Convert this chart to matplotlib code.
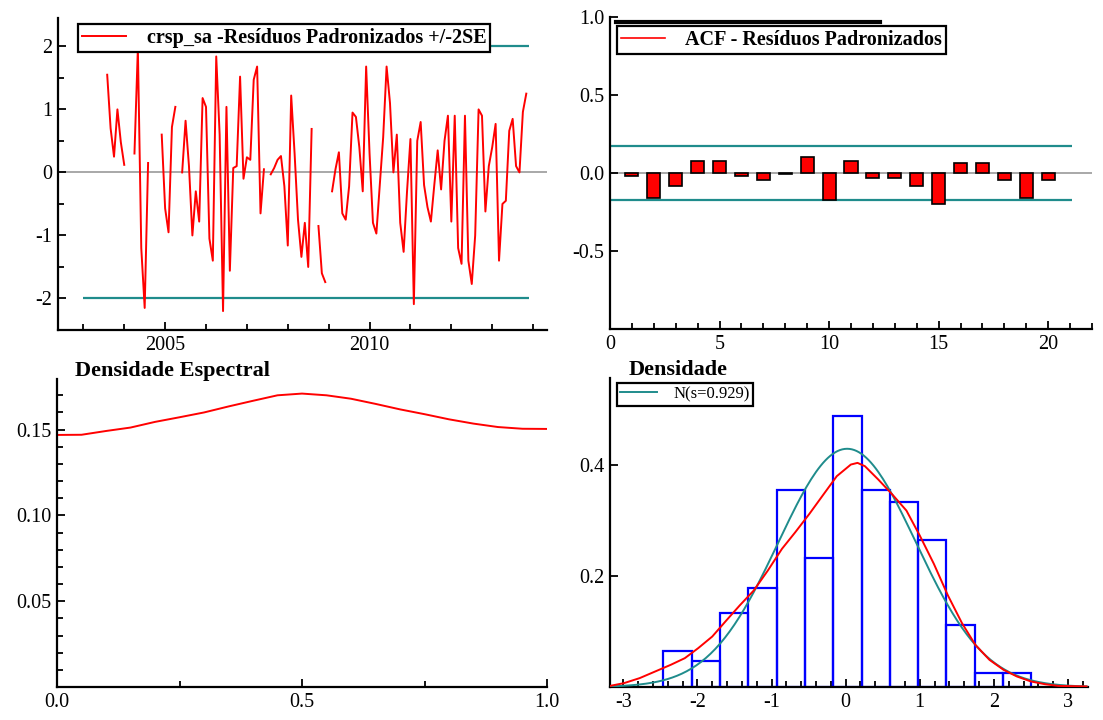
import numpy as np
import matplotlib.pyplot as plt
from matplotlib.ticker import MultipleLocator, FixedLocator

plt.rcParams['font.family'] = ['Liberation Serif', 'DejaVu Serif']
plt.rcParams['axes.unicode_minus'] = False

nan = np.nan

# standardized residuals, monthly from Aug 2003 (nan = missing)
resid = [1.55, 0.7, 0.25, 1.0, 0.48, 0.12, nan, nan, 0.3, 1.97,
         -1.2, -2.15, 0.15, nan, nan, nan, 0.6, -0.57, -0.95, 0.72,
         1.04, nan, 0.0, 0.82, 0.1, -1.0, -0.3, -0.78, 1.18, 1.04,
         -1.05, -1.4, 1.84, 0.6, -2.2, 1.04, -1.56, 0.07, 0.1, 1.52,
         -0.1, 0.24, 0.2, 1.47, 1.68, -0.65, 0.05, nan, -0.03, 0.07,
         0.2, 0.26, -0.22, -1.16, 1.22, 0.3, -0.75, -1.34, -0.8, -1.5,
         0.69, nan, -0.85, -1.6, -1.74, nan, -0.3, 0.05, 0.32, -0.65,
         -0.75, -0.22, 0.95, 0.88, 0.4, -0.3, 1.68, 0.3, -0.8, -0.97,
         -0.2, 0.56, 1.68, 1.1, 0.0, 0.6, -0.8, -1.26, -0.3, 0.53,
         -2.09, 0.5, 0.8, -0.2, -0.55, -0.78, -0.2, 0.35, -0.27, 0.5,
         0.9, -0.78, 0.9, -1.2, -1.45, 0.9, -1.4, -1.77, -1.0, 1.0,
         0.9, -0.62, 0.1, 0.4, 0.77, -1.4, -0.5, -0.45, 0.66, 0.85,
         0.1, 0.0, 0.96, 1.25]
dates = 2003 + 7 / 12 + np.arange(len(resid)) / 12

# autocorrelations, lags 1..20
lags = np.arange(1, 21)
acf = [-0.017, -0.158, -0.081, 0.077, 0.077, -0.017, -0.043, -0.004, 0.103, -0.175,
       0.077, -0.03, -0.03, -0.081, -0.197, 0.064, 0.064, -0.043, -0.158, -0.043]
acf_band = 0.175

# spectral density
freq = np.linspace(0, 1, 21)
spec = [0.1469, 0.1470, 0.1492, 0.1512, 0.1545, 0.1572, 0.1600, 0.1635, 0.1668, 0.1700,
        0.1710, 0.1700, 0.1680, 0.1650, 0.1618, 0.1590, 0.1560, 0.1535, 0.1515, 0.1505, 0.1504]

# histogram of residuals (density scale)
bin_left = -2.46
bin_w = 0.382
hist_h = [0.064, 0.046, 0.1325, 0.179, 0.355, 0.232, 0.488, 0.355, 0.333, 0.265,
          0.111, 0.025, 0.025]

# kernel density estimate
kde_x = [-3.18, -2.99, -2.78, -2.57, -2.36, -2.17, -1.99, -1.8, -1.61, -1.43,
         -1.24, -1.05, -0.86, -0.68, -0.49, -0.3, -0.12, 0.07, 0.16, 0.26,
         0.44, 0.63, 0.82, 1.0, 1.19, 1.38, 1.57, 1.75, 1.94, 2.13,
         2.31, 2.5, 2.69, 2.87, 3.25]
kde_y = [0.002, 0.007, 0.016, 0.028, 0.04, 0.052, 0.07, 0.091, 0.12, 0.147,
         0.174, 0.21, 0.249, 0.279, 0.312, 0.347, 0.38, 0.401, 0.404, 0.398,
         0.374, 0.347, 0.318, 0.273, 0.222, 0.165, 0.115, 0.076, 0.049, 0.031,
         0.019, 0.01, 0.005, 0.002, 0.001]
norm_mean = 0.02
norm_s = 0.929

RED = '#ff0000'
TEAL = '#1f8c8c'
BLUE = '#0000ff'
GREY = '#9a9a9a'

W, H = 1103, 720
fig = plt.figure(figsize=(W / 100, H / 100), dpi=100)

def box(x0, x1, ytop, ybot):
    return [x0 / W, 1 - ybot / H, (x1 - x0) / W, (ybot - ytop) / H]

ax1 = fig.add_axes(box(58, 547, 18, 330))
ax2 = fig.add_axes(box(610, 1092, 17, 329))
ax3 = fig.add_axes(box(57, 547, 379, 687))
ax4 = fig.add_axes(box(610, 1088, 378, 687))

for ax in (ax1, ax2, ax3, ax4):
    for s in ('top', 'right'):
        ax.spines[s].set_visible(False)
    for s in ('left', 'bottom'):
        ax.spines[s].set_linewidth(1.6)
    ax.tick_params(which='both', direction='in', labelsize=14.5, width=1.3, pad=4)
    ax.tick_params(which='major', length=6)
    ax.tick_params(which='minor', length=4)

def legend(ax, x, y, size=14.5, bold=True):
    lg = ax.legend(loc='upper left', bbox_to_anchor=(x, y), borderaxespad=0,
                   frameon=True, fancybox=False, handlelength=2.2, handletextpad=1.0,
                   borderpad=0.2, prop={'size': size, 'weight': 'bold' if bold else 'normal'})
    lg.get_frame().set_edgecolor('black')
    lg.get_frame().set_linewidth(1.6)
    lg.get_frame().set_alpha(1)
    return lg

# residuals
ax1.axhline(0, color=GREY, lw=1.2, zorder=1)
ax1.hlines([2, -2], 2003.0, 2013.9, color=TEAL, lw=1.6, zorder=2)
ax1.plot(dates, resid, color=RED, lw=1.4, zorder=3, label='crsp_sa -Resíduos Padronizados +/-2SE')
ax1.set_xlim(2002.38, 2014.34)
ax1.set_ylim(-2.5, 2.45)
ax1.xaxis.set_major_locator(FixedLocator([2005, 2010]))
ax1.xaxis.set_minor_locator(MultipleLocator(1))
ax1.yaxis.set_major_locator(MultipleLocator(1))
ax1.yaxis.set_minor_locator(MultipleLocator(0.5))
legend(ax1, 0.041, 0.981)

# ACF
ax2.axhline(0, color=GREY, lw=1.2, zorder=1)
ax2.hlines([acf_band, -acf_band], 0, 21.1, color=TEAL, lw=1.6, zorder=2)
ax2.bar(lags, acf, width=0.6, color=RED, edgecolor='black', lw=1.2, zorder=3)
ax2.plot([], [], color=RED, lw=1.2, label='ACF - Resíduos Padronizados')
ax2.set_xlim(0, 22)
ax2.set_ylim(-1, 1.0)
ax2.xaxis.set_major_locator(MultipleLocator(5))
ax2.xaxis.set_minor_locator(MultipleLocator(1))
ax2.yaxis.set_major_locator(FixedLocator([-0.5, 0.0, 0.5, 1.0]))
ax2.yaxis.set_major_formatter(plt.FormatStrFormatter('%.1f'))
ax2.plot([0.012, 0.56], [0.985, 0.985], transform=ax2.transAxes, color='black', lw=3, clip_on=False)
legend(ax2, 0.0145, 0.971)

# spectral density
ax3.plot(freq, spec, color=RED, lw=1.4)
ax3.set_xlim(0, 1.0)
ax3.set_ylim(0, 0.1795)
ax3.xaxis.set_major_locator(MultipleLocator(0.5))
ax3.xaxis.set_minor_locator(MultipleLocator(0.25))
ax3.xaxis.set_major_formatter(plt.FormatStrFormatter('%.1f'))
ax3.yaxis.set_major_locator(FixedLocator([0.05, 0.10, 0.15]))
ax3.yaxis.set_minor_locator(MultipleLocator(0.01))
ax3.yaxis.set_major_formatter(plt.FormatStrFormatter('%.2f'))
ax3.text(0.037, 0.995, 'Densidade Espectral', transform=ax3.transAxes,
         fontsize=16, fontweight='bold', va='bottom', ha='left')

# density
edges = bin_left + bin_w * np.arange(len(hist_h))
ax4.bar(edges, hist_h, width=bin_w, align='edge', fill=False, edgecolor=BLUE, lw=1.6, zorder=2)
gx = np.linspace(-3.18, 3.25, 200)
ax4.plot(gx, np.exp(-0.5 * ((gx - norm_mean) / norm_s) ** 2) / (norm_s * np.sqrt(2 * np.pi)),
         color=TEAL, lw=1.4, zorder=3, label='N(s=0.929)')
ax4.plot(kde_x, kde_y, color=RED, lw=1.4, zorder=4)
ax4.set_xlim(-3.18, 3.27)
ax4.set_ylim(0, 0.557)
ax4.xaxis.set_major_locator(MultipleLocator(1))
ax4.xaxis.set_minor_locator(MultipleLocator(0.2))
ax4.yaxis.set_major_locator(FixedLocator([0.2, 0.4]))
ax4.yaxis.set_major_formatter(plt.FormatStrFormatter('%.1f'))
ax4.text(0.038, 0.995, 'Densidade', transform=ax4.transAxes,
         fontsize=16, fontweight='bold', va='bottom', ha='left')
lg = legend(ax4, 0.0146, 0.984, size=12, bold=False)
lg.set_zorder(5)

fig.savefig('out.png', dpi=100)
